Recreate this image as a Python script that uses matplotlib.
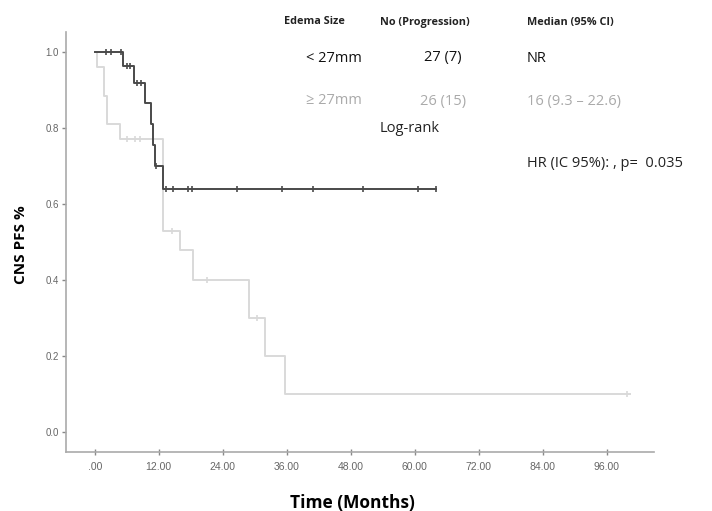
import matplotlib
matplotlib.use("Agg")
import matplotlib.pyplot as plt
import numpy as np

# ---- data ----
# < 27mm group (dark)
dark_event_t = [0.0, 5.3, 7.4, 9.4, 10.6, 11.0, 11.3, 12.8]
dark_event_s = [1.0, 0.963, 0.918, 0.865, 0.81, 0.755, 0.70, 0.64]
dark_end_t = 64.0
dark_cens_t = [2.1, 3.0, 4.9, 6.0, 6.6, 8.0, 8.7, 11.5, 13.3, 14.6, 17.4, 18.2,
               26.6, 35.1, 40.9, 50.3, 60.6, 64.0]

# >= 27mm group (light)
light_event_t = [0.0, 0.4, 1.8, 2.3, 4.7, 12.8, 16.0, 18.4, 29.0, 31.9, 35.6]
light_event_s = [1.0, 0.96, 0.885, 0.81, 0.77, 0.53, 0.48, 0.40, 0.30, 0.20, 0.10]
light_end_t = 100.4
light_cens_t = [6.0, 7.5, 8.5, 14.5, 21.0, 30.5, 99.8]

x_ticks = [0, 12, 24, 36, 48, 60, 72, 84, 96]
x_ticklabels = [".00", "12.00", "24.00", "36.00", "48.00", "60.00", "72.00", "84.00", "96.00"]
y_ticks = [0.0, 0.2, 0.4, 0.6, 0.8, 1.0]
y_ticklabels = ["0.0", "0.2", "0.4", "0.6", "0.8", "1.0"]

DARK = "#4a4a4a"
LIGHT = "#d9d9d9"

plt.rcParams['font.family'] = ['Open Sans', 'DejaVu Sans']

fig = plt.figure(figsize=(7.12, 5.11), dpi=100)
ax = fig.add_axes([66/712, 1-452/511, (654-66)/712, (452-32)/511])


def surv_at(t, ts, ss):
    idx = np.searchsorted(ts, t, side='right') - 1
    return ss[max(idx, 0)]


for ts, ss, end, cens, col in [
        (light_event_t, light_event_s, light_end_t, light_cens_t, LIGHT),
        (dark_event_t, dark_event_s, dark_end_t, dark_cens_t, DARK)]:
    xs = list(ts) + [end]
    ys = list(ss) + [ss[-1]]
    ax.step(xs, ys, where='post', color=col, lw=1.4)
    cy = [surv_at(c, ts, ss) for c in cens]
    ax.plot(cens, cy, linestyle='none', marker='|', markersize=5,
            markeredgewidth=1.2, color=col)

ax.set_xlim(-5.4, 104.9)
ax.set_ylim(-0.053, 1.053)
ax.set_xticks(x_ticks)
ax.set_xticklabels(x_ticklabels, family=['Liberation Sans', 'DejaVu Sans'], fontsize=7.5, color="#666666")
ax.set_yticks(y_ticks)
ax.set_yticklabels(y_ticklabels, family=['Liberation Sans', 'DejaVu Sans'], fontsize=7, color="#666666")
ax.tick_params(axis='x', direction='inout', length=5, width=1, color="#888888", pad=5)
ax.tick_params(axis='y', direction='out', length=3, width=1, color="#888888", pad=2)
for s in ['top', 'right']:
    ax.spines[s].set_visible(False)
for s in ['left', 'bottom']:
    ax.spines[s].set_color("#aaaaaa")
    ax.spines[s].set_linewidth(1.2)

fig.text(21/712, 1-245/511, "CNS PFS %", fontsize=11, fontweight='bold',
         rotation=90, ha='center', va='center')
fig.text(352/712, 1-503/511, "Time (Months)", fontsize=12.5, fontweight='bold',
         ha='center', va='center')

# annotation table
def ft(x, y, s, **kw):
    fig.text(x/712, 1-y/511, s, va='center', **kw)

ft(345, 22, "Edema Size", fontsize=7.8, fontweight='bold', ha='right', color="#222222")
ft(380, 22, "No (Progression)", fontsize=7.8, fontweight='bold', ha='left', color="#222222")
ft(527, 22, "Median (95% CI)", fontsize=7.8, fontweight='bold', ha='left', color="#222222")

ft(362, 58, "< 27mm", fontsize=10.5, ha='right', color="#111111")
ft(443, 58, "27 (7)", fontsize=10.5, ha='center', color="#111111")
ft(527, 58, "NR", fontsize=10.5, ha='left', color="#111111")

ft(362, 101, "\u2265 27mm", fontsize=10.5, ha='right', color="#aaaaaa")
ft(443, 101, "26 (15)", fontsize=10.5, ha='center', color="#aaaaaa")
ft(527, 101, "16 (9.3 \u2013 22.6)", fontsize=10.5, ha='left', color="#aaaaaa")

ft(380, 129, "Log-rank", fontsize=10.5, ha='left', color="#222222")
ft(527, 163, "HR (IC 95%): , p=  0.035", fontsize=10.5, ha='left', color="#222222")

fig.savefig("out.png", dpi=100)
